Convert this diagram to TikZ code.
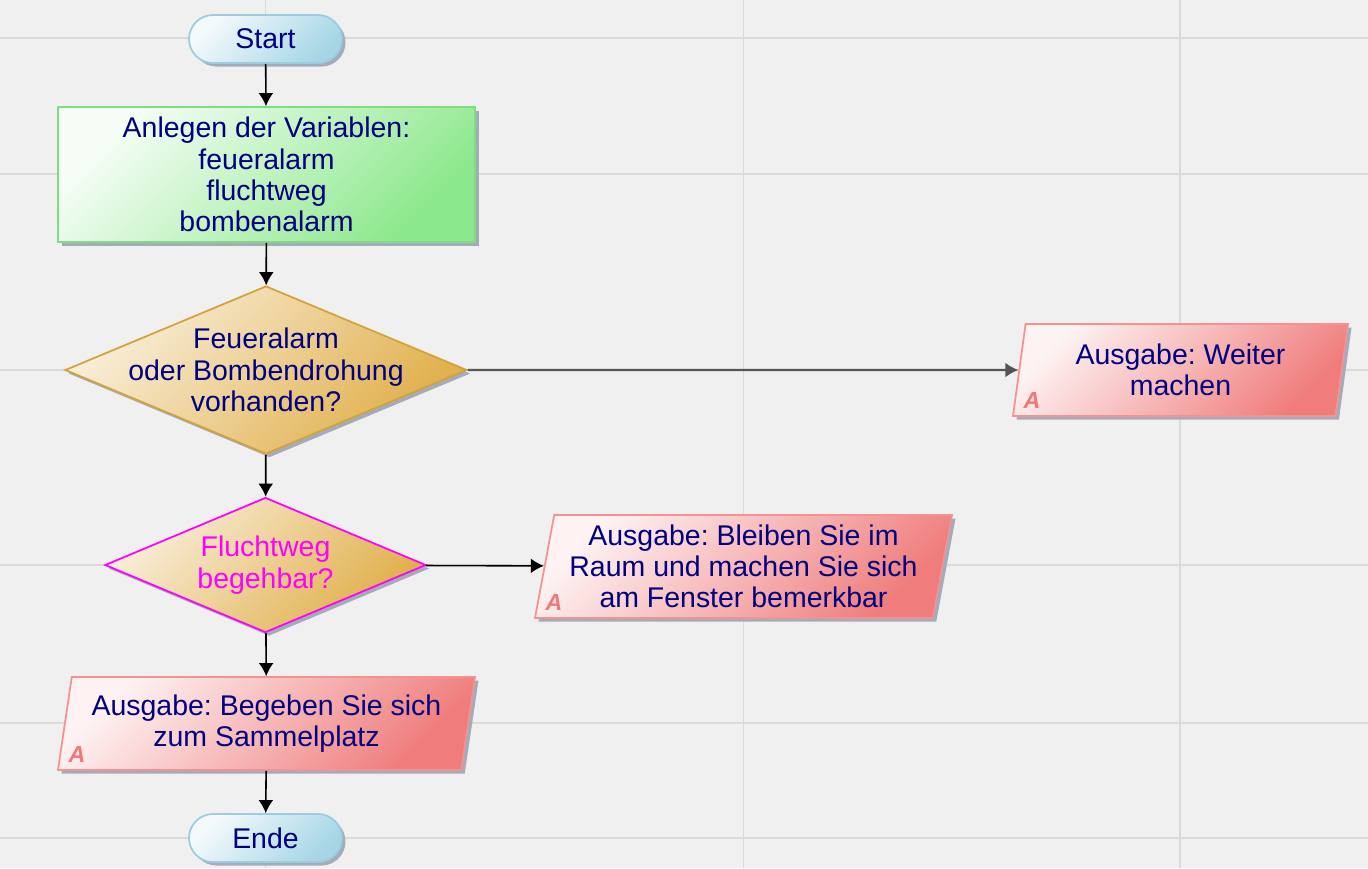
\documentclass[tikz,border=0pt]{standalone}
\usepackage{fontspec}
\setmainfont{Liberation Sans}
\usepackage{xcolor}
\usepackage{tikz}
\usetikzlibrary{arrows.meta,shapes.geometric,shapes.misc,shadows}
\definecolor{bggray}{HTML}{F0F0F0}
\definecolor{gridgray}{HTML}{DADADA}
\definecolor{txtnavy}{HTML}{000080}
\definecolor{termblue}{HTML}{A6D6E6}
\definecolor{termline}{HTML}{9CCCDE}
\definecolor{varsgreen}{HTML}{8CE88C}
\definecolor{varsline}{HTML}{80DC80}
\definecolor{decgold}{HTML}{E0AE48}
\definecolor{decline}{HTML}{D4A23A}
\definecolor{outred}{HTML}{F07C7C}
\definecolor{outborder}{HTML}{F29292}
\definecolor{amarkred}{HTML}{F07878}
\definecolor{wegmagenta}{HTML}{FF00FF}
\definecolor{shadowgray}{HTML}{A4ABBA}
\definecolor{linegray}{HTML}{555555}
\tikzset{
  shadowed/.style={drop shadow={shadow xshift=0.035cm,shadow yshift=-0.035cm,fill=shadowgray,opacity=1}},
  flowtext/.style={font=\fontsize{8.1}{8.9}\selectfont\frenchspacing,text=txtnavy,align=center},
  terminal/.style={rounded rectangle,shadowed,draw=termline,line width=0.5pt,
    left color=termblue!12!white,middle color=termblue!50!white,right color=termblue,shading angle=45,
    minimum width=1.53cm,minimum height=0.48cm,inner sep=0pt,flowtext},
  varbox/.style={rectangle,shadowed,draw=varsline,line width=0.5pt,
    left color=varsgreen!8!white,middle color=varsgreen!45!white,right color=varsgreen,shading angle=45,
    minimum width=4.17cm,minimum height=1.35cm,inner sep=0pt,flowtext},
  decision/.style={diamond,shadowed,draw=decline,line width=0.5pt,
    left color=decgold!20!white,middle color=decgold!60!white,right color=decgold,shading angle=45,inner sep=0pt},
  output/.style={trapezium,trapezium left angle=78,trapezium right angle=102,
    trapezium stretches body,shadowed,draw=outborder,line width=0.5pt,
    left color=outred!10!white,middle color=outred!45!white,right color=outred,shading angle=45,inner sep=1pt,flowtext},
  amark/.style={font=\fontsize{6.6}{6.6}\selectfont\bfseries\itshape,text=amarkred,
    anchor=south west,inner sep=0pt},
  gridline/.style={gridgray,line width=0.3pt},
  flowline/.style={->,line width=0.45pt}
}
\begin{document}
\begin{tikzpicture}[>={Latex[length=3.7pt,width=4.2pt]}]
\useasboundingbox (0,0) rectangle (13.68,-8.68);
\fill[bggray] (0,0) rectangle (13.68,-8.68);
\foreach \y in {0.38,1.74,3.70,5.65,7.23,8.38}
  \draw[gridline] (0,-\y) -- (13.68,-\y);
\foreach \x in {2.655,7.435,11.80}
  \draw[gridline] (\x,0) -- (\x,-8.68);
\node[terminal] (start) at (2.655,-0.39) {Start};
\node[varbox] (vars) at (2.665,-1.745) {Anlegen der Variablen:\\feueralarm\\fluchtweg\\bombenalarm};
\node[decision,minimum width=4.02cm,minimum height=1.68cm] (alarm) at (2.66,-3.70) {};
\node[flowtext] (alarmtext) at (alarm) {Feueralarm\\oder Bombendrohung\\vorhanden?};
\node[decision,draw=wegmagenta,minimum width=3.21cm,minimum height=1.35cm] (weg) at (2.655,-5.65) {};
\node[flowtext,text=wegmagenta] (wegtext) at (weg) {Fluchtweg\\begehbar?};
\node[output,minimum width=3.35cm,minimum height=0.92cm] (weiter) at (11.805,-3.70) {Ausgabe: Weiter\\machen};
\node[amark] (weitera) at ([xshift=0.11cm,yshift=0.08cm]weiter.bottom left corner) {A};
\node[output,minimum width=4.17cm,minimum height=1.03cm] (bleiben) at (7.435,-5.665) {Ausgabe: Bleiben Sie im\\Raum und machen Sie sich\\am Fenster bemerkbar};
\node[amark] (bleibena) at ([xshift=0.11cm,yshift=0.08cm]bleiben.bottom left corner) {A};
\node[output,minimum width=4.17cm,minimum height=0.93cm] (sammel) at (2.665,-7.235) {Ausgabe: Begeben Sie sich\\zum Sammelplatz};
\node[amark] (sammela) at ([xshift=0.11cm,yshift=0.08cm]sammel.bottom left corner) {A};
\node[terminal] (ende) at (2.655,-8.38) {Ende};
\draw[flowline] (start) -- (vars);
\draw[flowline] (vars) -- (alarm);
\draw[flowline] (alarm) -- (weg);
\draw[flowline,linegray,line width=0.6pt] (alarm) -- (weiter);
\draw[flowline] (weg) -- (bleiben);
\draw[flowline] (weg) -- (sammel);
\draw[flowline] (sammel) -- (ende);
\end{tikzpicture}
\end{document}
